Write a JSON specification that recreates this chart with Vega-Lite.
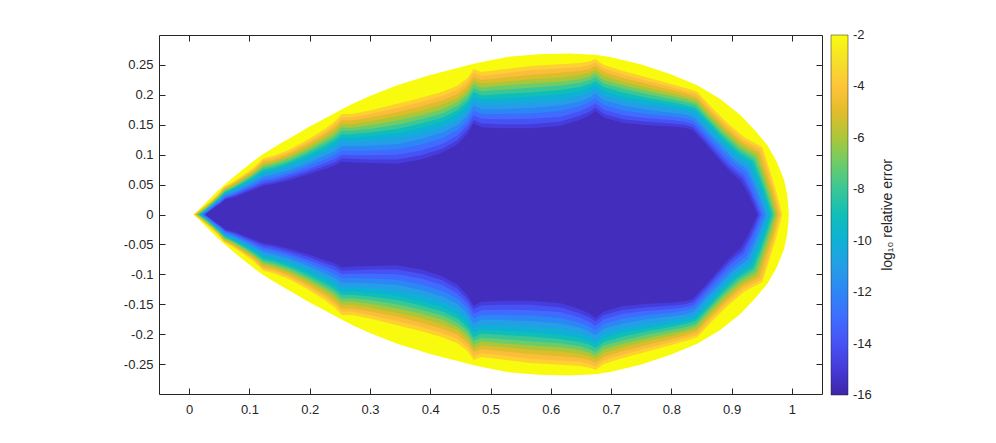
{
"$schema":"https://vega.github.io/schema/vega-lite/v6.json",
"width":663,"height":359,
"padding":{"left":119,"top":34,"right":0,"bottom":0},
"autosize":{"type":"pad"},
"background":"white",
"config":{"view":{"stroke":null},"font":"Liberation Sans",
"axis":{"domainColor":"#262626","domainWidth":1,"tickColor":"#262626","tickWidth":1,"labelColor":"#262626","labelFont":"Liberation Sans","labelFontSize":13,"grid":false,"title":null,"zindex":1}},
"data":{"values":[
{"e":-2,"x":0.007,"t":0,"b":0},{"e":-2,"x":0.015,"t":0.007,"b":-0.007},{"e":-2,"x":0.025,"t":0.017,"b":-0.017},{"e":-2,"x":0.035,"t":0.027,"b":-0.027},{"e":-2,"x":0.049,"t":0.041,"b":-0.041},{"e":-2,"x":0.066,"t":0.056,"b":-0.056},{"e":-2,"x":0.09,"t":0.076,"b":-0.076},{"e":-2,"x":0.121,"t":0.1,"b":-0.1},{"e":-2,"x":0.15,"t":0.118,"b":-0.118},{"e":-2,"x":0.176,"t":0.133,"b":-0.133},{"e":-2,"x":0.2,"t":0.147,"b":-0.147},{"e":-2,"x":0.226,"t":0.161,"b":-0.161},{"e":-2,"x":0.252,"t":0.175,"b":-0.175},{"e":-2,"x":0.273,"t":0.186,"b":-0.186},{"e":-2,"x":0.3,"t":0.198,"b":-0.198},{"e":-2,"x":0.345,"t":0.216,"b":-0.216},{"e":-2,"x":0.4,"t":0.233,"b":-0.233},{"e":-2,"x":0.45,"t":0.246,"b":-0.246},{"e":-2,"x":0.472,"t":0.252,"b":-0.252},{"e":-2,"x":0.5,"t":0.258,"b":-0.258},{"e":-2,"x":0.533,"t":0.264,"b":-0.264},{"e":-2,"x":0.58,"t":0.268,"b":-0.268},{"e":-2,"x":0.63,"t":0.269,"b":-0.269},{"e":-2,"x":0.674,"t":0.267,"b":-0.267},{"e":-2,"x":0.7,"t":0.263,"b":-0.263},{"e":-2,"x":0.749,"t":0.251,"b":-0.251},{"e":-2,"x":0.8,"t":0.234,"b":-0.234},{"e":-2,"x":0.843,"t":0.216,"b":-0.216},{"e":-2,"x":0.88,"t":0.194,"b":-0.194},{"e":-2,"x":0.915,"t":0.166,"b":-0.166},{"e":-2,"x":0.94,"t":0.139,"b":-0.139},{"e":-2,"x":0.96,"t":0.115,"b":-0.115},{"e":-2,"x":0.975,"t":0.088,"b":-0.088},{"e":-2,"x":0.987,"t":0.058,"b":-0.058},{"e":-2,"x":0.992,"t":0.035,"b":-0.035},{"e":-2,"x":0.994,"t":0.015,"b":-0.015},{"e":-2,"x":0.995,"t":0,"b":0},
{"e":-3.5,"x":0.008,"t":0,"b":0},{"e":-3.5,"x":0.02,"t":0.009,"b":-0.009},{"e":-3.5,"x":0.035,"t":0.022,"b":-0.022},{"e":-3.5,"x":0.048,"t":0.034,"b":-0.034},{"e":-3.5,"x":0.058,"t":0.046,"b":-0.046},{"e":-3.5,"x":0.072,"t":0.054,"b":-0.054},{"e":-3.5,"x":0.09,"t":0.066,"b":-0.066},{"e":-3.5,"x":0.108,"t":0.079,"b":-0.079},{"e":-3.5,"x":0.123,"t":0.094,"b":-0.094},{"e":-3.5,"x":0.14,"t":0.098,"b":-0.098},{"e":-3.5,"x":0.165,"t":0.108,"b":-0.108},{"e":-3.5,"x":0.195,"t":0.124,"b":-0.124},{"e":-3.5,"x":0.225,"t":0.143,"b":-0.143},{"e":-3.5,"x":0.242,"t":0.156,"b":-0.156},{"e":-3.5,"x":0.253,"t":0.168,"b":-0.168},{"e":-3.5,"x":0.27,"t":0.168,"b":-0.168},{"e":-3.5,"x":0.3,"t":0.174,"b":-0.174},{"e":-3.5,"x":0.345,"t":0.185,"b":-0.185},{"e":-3.5,"x":0.385,"t":0.195,"b":-0.195},{"e":-3.5,"x":0.42,"t":0.205,"b":-0.205},{"e":-3.5,"x":0.445,"t":0.215,"b":-0.215},{"e":-3.5,"x":0.462,"t":0.228,"b":-0.228},{"e":-3.5,"x":0.472,"t":0.243,"b":-0.243},{"e":-3.5,"x":0.485,"t":0.238,"b":-0.238},{"e":-3.5,"x":0.515,"t":0.242,"b":-0.242},{"e":-3.5,"x":0.566,"t":0.248,"b":-0.248},{"e":-3.5,"x":0.615,"t":0.251,"b":-0.251},{"e":-3.5,"x":0.648,"t":0.253,"b":-0.253},{"e":-3.5,"x":0.665,"t":0.256,"b":-0.256},{"e":-3.5,"x":0.674,"t":0.26,"b":-0.26},{"e":-3.5,"x":0.688,"t":0.25,"b":-0.25},{"e":-3.5,"x":0.72,"t":0.24,"b":-0.24},{"e":-3.5,"x":0.76,"t":0.229,"b":-0.229},{"e":-3.5,"x":0.8,"t":0.218,"b":-0.218},{"e":-3.5,"x":0.825,"t":0.211,"b":-0.211},{"e":-3.5,"x":0.843,"t":0.205,"b":-0.205},{"e":-3.5,"x":0.868,"t":0.178,"b":-0.178},{"e":-3.5,"x":0.894,"t":0.152,"b":-0.152},{"e":-3.5,"x":0.921,"t":0.129,"b":-0.129},{"e":-3.5,"x":0.951,"t":0.113,"b":-0.113},{"e":-3.5,"x":0.962,"t":0.078,"b":-0.078},{"e":-3.5,"x":0.974,"t":0.039,"b":-0.039},{"e":-3.5,"x":0.984,"t":0,"b":0},
{"e":-4.3,"x":0.009,"t":0,"b":0},{"e":-4.3,"x":0.021,"t":0.009,"b":-0.009},{"e":-4.3,"x":0.036,"t":0.021,"b":-0.021},{"e":-4.3,"x":0.048,"t":0.033,"b":-0.033},{"e":-4.3,"x":0.058,"t":0.045,"b":-0.045},{"e":-4.3,"x":0.072,"t":0.052,"b":-0.052},{"e":-4.3,"x":0.09,"t":0.064,"b":-0.064},{"e":-4.3,"x":0.108,"t":0.076,"b":-0.076},{"e":-4.3,"x":0.123,"t":0.091,"b":-0.091},{"e":-4.3,"x":0.14,"t":0.095,"b":-0.095},{"e":-4.3,"x":0.165,"t":0.104,"b":-0.104},{"e":-4.3,"x":0.195,"t":0.12,"b":-0.12},{"e":-4.3,"x":0.225,"t":0.138,"b":-0.138},{"e":-4.3,"x":0.242,"t":0.151,"b":-0.151},{"e":-4.3,"x":0.253,"t":0.162,"b":-0.162},{"e":-4.3,"x":0.27,"t":0.162,"b":-0.162},{"e":-4.3,"x":0.3,"t":0.168,"b":-0.168},{"e":-4.3,"x":0.345,"t":0.178,"b":-0.178},{"e":-4.3,"x":0.385,"t":0.188,"b":-0.188},{"e":-4.3,"x":0.42,"t":0.198,"b":-0.198},{"e":-4.3,"x":0.445,"t":0.208,"b":-0.208},{"e":-4.3,"x":0.462,"t":0.222,"b":-0.222},{"e":-4.3,"x":0.472,"t":0.237,"b":-0.237},{"e":-4.3,"x":0.485,"t":0.232,"b":-0.232},{"e":-4.3,"x":0.515,"t":0.235,"b":-0.235},{"e":-4.3,"x":0.566,"t":0.241,"b":-0.241},{"e":-4.3,"x":0.615,"t":0.244,"b":-0.244},{"e":-4.3,"x":0.648,"t":0.246,"b":-0.246},{"e":-4.3,"x":0.665,"t":0.25,"b":-0.25},{"e":-4.3,"x":0.674,"t":0.254,"b":-0.254},{"e":-4.3,"x":0.688,"t":0.244,"b":-0.244},{"e":-4.3,"x":0.72,"t":0.234,"b":-0.234},{"e":-4.3,"x":0.76,"t":0.223,"b":-0.223},{"e":-4.3,"x":0.8,"t":0.213,"b":-0.213},{"e":-4.3,"x":0.825,"t":0.206,"b":-0.206},{"e":-4.3,"x":0.843,"t":0.201,"b":-0.201},{"e":-4.3,"x":0.867,"t":0.174,"b":-0.174},{"e":-4.3,"x":0.893,"t":0.148,"b":-0.148},{"e":-4.3,"x":0.919,"t":0.125,"b":-0.125},{"e":-4.3,"x":0.949,"t":0.109,"b":-0.109},{"e":-4.3,"x":0.96,"t":0.075,"b":-0.075},{"e":-4.3,"x":0.971,"t":0.038,"b":-0.038},{"e":-4.3,"x":0.981,"t":0,"b":0},
{"e":-5.1,"x":0.011,"t":0,"b":0},{"e":-5.1,"x":0.022,"t":0.009,"b":-0.009},{"e":-5.1,"x":0.037,"t":0.021,"b":-0.021},{"e":-5.1,"x":0.049,"t":0.032,"b":-0.032},{"e":-5.1,"x":0.058,"t":0.043,"b":-0.043},{"e":-5.1,"x":0.072,"t":0.051,"b":-0.051},{"e":-5.1,"x":0.09,"t":0.062,"b":-0.062},{"e":-5.1,"x":0.108,"t":0.074,"b":-0.074},{"e":-5.1,"x":0.123,"t":0.088,"b":-0.088},{"e":-5.1,"x":0.14,"t":0.091,"b":-0.091},{"e":-5.1,"x":0.165,"t":0.101,"b":-0.101},{"e":-5.1,"x":0.195,"t":0.116,"b":-0.116},{"e":-5.1,"x":0.225,"t":0.134,"b":-0.134},{"e":-5.1,"x":0.242,"t":0.146,"b":-0.146},{"e":-5.1,"x":0.253,"t":0.157,"b":-0.157},{"e":-5.1,"x":0.27,"t":0.157,"b":-0.157},{"e":-5.1,"x":0.3,"t":0.162,"b":-0.162},{"e":-5.1,"x":0.345,"t":0.171,"b":-0.171},{"e":-5.1,"x":0.385,"t":0.181,"b":-0.181},{"e":-5.1,"x":0.42,"t":0.191,"b":-0.191},{"e":-5.1,"x":0.445,"t":0.201,"b":-0.201},{"e":-5.1,"x":0.462,"t":0.215,"b":-0.215},{"e":-5.1,"x":0.472,"t":0.23,"b":-0.23},{"e":-5.1,"x":0.485,"t":0.225,"b":-0.225},{"e":-5.1,"x":0.515,"t":0.228,"b":-0.228},{"e":-5.1,"x":0.566,"t":0.233,"b":-0.233},{"e":-5.1,"x":0.615,"t":0.237,"b":-0.237},{"e":-5.1,"x":0.648,"t":0.24,"b":-0.24},{"e":-5.1,"x":0.665,"t":0.243,"b":-0.243},{"e":-5.1,"x":0.674,"t":0.248,"b":-0.248},{"e":-5.1,"x":0.688,"t":0.238,"b":-0.238},{"e":-5.1,"x":0.72,"t":0.228,"b":-0.228},{"e":-5.1,"x":0.76,"t":0.218,"b":-0.218},{"e":-5.1,"x":0.8,"t":0.208,"b":-0.208},{"e":-5.1,"x":0.825,"t":0.202,"b":-0.202},{"e":-5.1,"x":0.842,"t":0.196,"b":-0.196},{"e":-5.1,"x":0.866,"t":0.17,"b":-0.17},{"e":-5.1,"x":0.891,"t":0.144,"b":-0.144},{"e":-5.1,"x":0.917,"t":0.121,"b":-0.121},{"e":-5.1,"x":0.946,"t":0.105,"b":-0.105},{"e":-5.1,"x":0.957,"t":0.072,"b":-0.072},{"e":-5.1,"x":0.969,"t":0.036,"b":-0.036},{"e":-5.1,"x":0.978,"t":0,"b":0},
{"e":-6,"x":0.012,"t":0,"b":0},{"e":-6,"x":0.023,"t":0.009,"b":-0.009},{"e":-6,"x":0.037,"t":0.02,"b":-0.02},{"e":-6,"x":0.049,"t":0.031,"b":-0.031},{"e":-6,"x":0.058,"t":0.042,"b":-0.042},{"e":-6,"x":0.073,"t":0.049,"b":-0.049},{"e":-6,"x":0.09,"t":0.06,"b":-0.06},{"e":-6,"x":0.108,"t":0.071,"b":-0.071},{"e":-6,"x":0.123,"t":0.084,"b":-0.084},{"e":-6,"x":0.14,"t":0.088,"b":-0.088},{"e":-6,"x":0.165,"t":0.097,"b":-0.097},{"e":-6,"x":0.195,"t":0.112,"b":-0.112},{"e":-6,"x":0.225,"t":0.129,"b":-0.129},{"e":-6,"x":0.242,"t":0.141,"b":-0.141},{"e":-6,"x":0.253,"t":0.151,"b":-0.151},{"e":-6,"x":0.27,"t":0.151,"b":-0.151},{"e":-6,"x":0.3,"t":0.156,"b":-0.156},{"e":-6,"x":0.345,"t":0.164,"b":-0.164},{"e":-6,"x":0.385,"t":0.173,"b":-0.173},{"e":-6,"x":0.42,"t":0.184,"b":-0.184},{"e":-6,"x":0.445,"t":0.194,"b":-0.194},{"e":-6,"x":0.462,"t":0.209,"b":-0.209},{"e":-6,"x":0.472,"t":0.224,"b":-0.224},{"e":-6,"x":0.485,"t":0.219,"b":-0.219},{"e":-6,"x":0.515,"t":0.221,"b":-0.221},{"e":-6,"x":0.566,"t":0.226,"b":-0.226},{"e":-6,"x":0.615,"t":0.229,"b":-0.229},{"e":-6,"x":0.648,"t":0.233,"b":-0.233},{"e":-6,"x":0.665,"t":0.237,"b":-0.237},{"e":-6,"x":0.674,"t":0.242,"b":-0.242},{"e":-6,"x":0.688,"t":0.232,"b":-0.232},{"e":-6,"x":0.72,"t":0.222,"b":-0.222},{"e":-6,"x":0.76,"t":0.212,"b":-0.212},{"e":-6,"x":0.8,"t":0.203,"b":-0.203},{"e":-6,"x":0.824,"t":0.197,"b":-0.197},{"e":-6,"x":0.842,"t":0.192,"b":-0.192},{"e":-6,"x":0.865,"t":0.166,"b":-0.166},{"e":-6,"x":0.89,"t":0.141,"b":-0.141},{"e":-6,"x":0.915,"t":0.118,"b":-0.118},{"e":-6,"x":0.943,"t":0.101,"b":-0.101},{"e":-6,"x":0.954,"t":0.069,"b":-0.069},{"e":-6,"x":0.966,"t":0.035,"b":-0.035},{"e":-6,"x":0.975,"t":0,"b":0},
{"e":-7,"x":0.013,"t":0,"b":0},{"e":-7,"x":0.024,"t":0.008,"b":-0.008},{"e":-7,"x":0.038,"t":0.02,"b":-0.02},{"e":-7,"x":0.049,"t":0.03,"b":-0.03},{"e":-7,"x":0.059,"t":0.04,"b":-0.04},{"e":-7,"x":0.073,"t":0.047,"b":-0.047},{"e":-7,"x":0.09,"t":0.057,"b":-0.057},{"e":-7,"x":0.107,"t":0.068,"b":-0.068},{"e":-7,"x":0.123,"t":0.081,"b":-0.081},{"e":-7,"x":0.14,"t":0.085,"b":-0.085},{"e":-7,"x":0.165,"t":0.094,"b":-0.094},{"e":-7,"x":0.195,"t":0.108,"b":-0.108},{"e":-7,"x":0.225,"t":0.124,"b":-0.124},{"e":-7,"x":0.242,"t":0.135,"b":-0.135},{"e":-7,"x":0.253,"t":0.146,"b":-0.146},{"e":-7,"x":0.27,"t":0.145,"b":-0.145},{"e":-7,"x":0.3,"t":0.149,"b":-0.149},{"e":-7,"x":0.345,"t":0.157,"b":-0.157},{"e":-7,"x":0.385,"t":0.166,"b":-0.166},{"e":-7,"x":0.42,"t":0.176,"b":-0.176},{"e":-7,"x":0.445,"t":0.188,"b":-0.188},{"e":-7,"x":0.462,"t":0.202,"b":-0.202},{"e":-7,"x":0.472,"t":0.218,"b":-0.218},{"e":-7,"x":0.485,"t":0.212,"b":-0.212},{"e":-7,"x":0.515,"t":0.215,"b":-0.215},{"e":-7,"x":0.566,"t":0.219,"b":-0.219},{"e":-7,"x":0.615,"t":0.222,"b":-0.222},{"e":-7,"x":0.648,"t":0.226,"b":-0.226},{"e":-7,"x":0.665,"t":0.231,"b":-0.231},{"e":-7,"x":0.674,"t":0.236,"b":-0.236},{"e":-7,"x":0.688,"t":0.225,"b":-0.225},{"e":-7,"x":0.72,"t":0.216,"b":-0.216},{"e":-7,"x":0.76,"t":0.207,"b":-0.207},{"e":-7,"x":0.8,"t":0.198,"b":-0.198},{"e":-7,"x":0.824,"t":0.193,"b":-0.193},{"e":-7,"x":0.841,"t":0.187,"b":-0.187},{"e":-7,"x":0.864,"t":0.162,"b":-0.162},{"e":-7,"x":0.888,"t":0.137,"b":-0.137},{"e":-7,"x":0.913,"t":0.114,"b":-0.114},{"e":-7,"x":0.941,"t":0.097,"b":-0.097},{"e":-7,"x":0.952,"t":0.067,"b":-0.067},{"e":-7,"x":0.963,"t":0.033,"b":-0.033},{"e":-7,"x":0.973,"t":0,"b":0},
{"e":-8,"x":0.015,"t":0,"b":0},{"e":-8,"x":0.026,"t":0.008,"b":-0.008},{"e":-8,"x":0.039,"t":0.019,"b":-0.019},{"e":-8,"x":0.05,"t":0.029,"b":-0.029},{"e":-8,"x":0.059,"t":0.039,"b":-0.039},{"e":-8,"x":0.073,"t":0.045,"b":-0.045},{"e":-8,"x":0.09,"t":0.055,"b":-0.055},{"e":-8,"x":0.107,"t":0.066,"b":-0.066},{"e":-8,"x":0.123,"t":0.078,"b":-0.078},{"e":-8,"x":0.14,"t":0.082,"b":-0.082},{"e":-8,"x":0.165,"t":0.09,"b":-0.09},{"e":-8,"x":0.195,"t":0.104,"b":-0.104},{"e":-8,"x":0.225,"t":0.12,"b":-0.12},{"e":-8,"x":0.242,"t":0.13,"b":-0.13},{"e":-8,"x":0.253,"t":0.14,"b":-0.14},{"e":-8,"x":0.27,"t":0.14,"b":-0.14},{"e":-8,"x":0.3,"t":0.143,"b":-0.143},{"e":-8,"x":0.345,"t":0.15,"b":-0.15},{"e":-8,"x":0.385,"t":0.159,"b":-0.159},{"e":-8,"x":0.42,"t":0.169,"b":-0.169},{"e":-8,"x":0.445,"t":0.181,"b":-0.181},{"e":-8,"x":0.462,"t":0.195,"b":-0.195},{"e":-8,"x":0.472,"t":0.211,"b":-0.211},{"e":-8,"x":0.485,"t":0.206,"b":-0.206},{"e":-8,"x":0.515,"t":0.208,"b":-0.208},{"e":-8,"x":0.566,"t":0.212,"b":-0.212},{"e":-8,"x":0.615,"t":0.215,"b":-0.215},{"e":-8,"x":0.648,"t":0.22,"b":-0.22},{"e":-8,"x":0.665,"t":0.225,"b":-0.225},{"e":-8,"x":0.674,"t":0.23,"b":-0.23},{"e":-8,"x":0.688,"t":0.219,"b":-0.219},{"e":-8,"x":0.72,"t":0.21,"b":-0.21},{"e":-8,"x":0.76,"t":0.201,"b":-0.201},{"e":-8,"x":0.8,"t":0.193,"b":-0.193},{"e":-8,"x":0.824,"t":0.188,"b":-0.188},{"e":-8,"x":0.841,"t":0.183,"b":-0.183},{"e":-8,"x":0.863,"t":0.158,"b":-0.158},{"e":-8,"x":0.887,"t":0.133,"b":-0.133},{"e":-8,"x":0.912,"t":0.11,"b":-0.11},{"e":-8,"x":0.938,"t":0.093,"b":-0.093},{"e":-8,"x":0.949,"t":0.064,"b":-0.064},{"e":-8,"x":0.96,"t":0.032,"b":-0.032},{"e":-8,"x":0.97,"t":0,"b":0},
{"e":-9,"x":0.016,"t":0,"b":0},{"e":-9,"x":0.027,"t":0.008,"b":-0.008},{"e":-9,"x":0.04,"t":0.019,"b":-0.019},{"e":-9,"x":0.05,"t":0.028,"b":-0.028},{"e":-9,"x":0.059,"t":0.037,"b":-0.037},{"e":-9,"x":0.073,"t":0.044,"b":-0.044},{"e":-9,"x":0.09,"t":0.053,"b":-0.053},{"e":-9,"x":0.107,"t":0.063,"b":-0.063},{"e":-9,"x":0.123,"t":0.075,"b":-0.075},{"e":-9,"x":0.14,"t":0.078,"b":-0.078},{"e":-9,"x":0.165,"t":0.087,"b":-0.087},{"e":-9,"x":0.195,"t":0.1,"b":-0.1},{"e":-9,"x":0.225,"t":0.115,"b":-0.115},{"e":-9,"x":0.242,"t":0.125,"b":-0.125},{"e":-9,"x":0.253,"t":0.134,"b":-0.134},{"e":-9,"x":0.27,"t":0.134,"b":-0.134},{"e":-9,"x":0.3,"t":0.137,"b":-0.137},{"e":-9,"x":0.345,"t":0.143,"b":-0.143},{"e":-9,"x":0.385,"t":0.152,"b":-0.152},{"e":-9,"x":0.42,"t":0.162,"b":-0.162},{"e":-9,"x":0.445,"t":0.174,"b":-0.174},{"e":-9,"x":0.462,"t":0.189,"b":-0.189},{"e":-9,"x":0.472,"t":0.205,"b":-0.205},{"e":-9,"x":0.485,"t":0.199,"b":-0.199},{"e":-9,"x":0.515,"t":0.201,"b":-0.201},{"e":-9,"x":0.566,"t":0.204,"b":-0.204},{"e":-9,"x":0.615,"t":0.208,"b":-0.208},{"e":-9,"x":0.648,"t":0.213,"b":-0.213},{"e":-9,"x":0.665,"t":0.218,"b":-0.218},{"e":-9,"x":0.674,"t":0.223,"b":-0.223},{"e":-9,"x":0.688,"t":0.213,"b":-0.213},{"e":-9,"x":0.72,"t":0.204,"b":-0.204},{"e":-9,"x":0.76,"t":0.195,"b":-0.195},{"e":-9,"x":0.8,"t":0.188,"b":-0.188},{"e":-9,"x":0.824,"t":0.183,"b":-0.183},{"e":-9,"x":0.84,"t":0.178,"b":-0.178},{"e":-9,"x":0.863,"t":0.154,"b":-0.154},{"e":-9,"x":0.886,"t":0.129,"b":-0.129},{"e":-9,"x":0.91,"t":0.106,"b":-0.106},{"e":-9,"x":0.936,"t":0.089,"b":-0.089},{"e":-9,"x":0.947,"t":0.061,"b":-0.061},{"e":-9,"x":0.958,"t":0.03,"b":-0.03},{"e":-9,"x":0.967,"t":0,"b":0},
{"e":-10,"x":0.017,"t":0,"b":0},{"e":-10,"x":0.028,"t":0.008,"b":-0.008},{"e":-10,"x":0.04,"t":0.018,"b":-0.018},{"e":-10,"x":0.05,"t":0.027,"b":-0.027},{"e":-10,"x":0.059,"t":0.036,"b":-0.036},{"e":-10,"x":0.073,"t":0.042,"b":-0.042},{"e":-10,"x":0.09,"t":0.051,"b":-0.051},{"e":-10,"x":0.107,"t":0.06,"b":-0.06},{"e":-10,"x":0.123,"t":0.071,"b":-0.071},{"e":-10,"x":0.14,"t":0.075,"b":-0.075},{"e":-10,"x":0.165,"t":0.083,"b":-0.083},{"e":-10,"x":0.195,"t":0.096,"b":-0.096},{"e":-10,"x":0.225,"t":0.11,"b":-0.11},{"e":-10,"x":0.242,"t":0.12,"b":-0.12},{"e":-10,"x":0.253,"t":0.129,"b":-0.129},{"e":-10,"x":0.27,"t":0.128,"b":-0.128},{"e":-10,"x":0.3,"t":0.131,"b":-0.131},{"e":-10,"x":0.345,"t":0.136,"b":-0.136},{"e":-10,"x":0.385,"t":0.145,"b":-0.145},{"e":-10,"x":0.42,"t":0.155,"b":-0.155},{"e":-10,"x":0.445,"t":0.167,"b":-0.167},{"e":-10,"x":0.462,"t":0.182,"b":-0.182},{"e":-10,"x":0.472,"t":0.198,"b":-0.198},{"e":-10,"x":0.485,"t":0.193,"b":-0.193},{"e":-10,"x":0.515,"t":0.194,"b":-0.194},{"e":-10,"x":0.566,"t":0.197,"b":-0.197},{"e":-10,"x":0.615,"t":0.201,"b":-0.201},{"e":-10,"x":0.648,"t":0.206,"b":-0.206},{"e":-10,"x":0.665,"t":0.212,"b":-0.212},{"e":-10,"x":0.674,"t":0.217,"b":-0.217},{"e":-10,"x":0.688,"t":0.207,"b":-0.207},{"e":-10,"x":0.72,"t":0.197,"b":-0.197},{"e":-10,"x":0.76,"t":0.19,"b":-0.19},{"e":-10,"x":0.8,"t":0.183,"b":-0.183},{"e":-10,"x":0.824,"t":0.179,"b":-0.179},{"e":-10,"x":0.84,"t":0.174,"b":-0.174},{"e":-10,"x":0.862,"t":0.15,"b":-0.15},{"e":-10,"x":0.884,"t":0.125,"b":-0.125},{"e":-10,"x":0.908,"t":0.103,"b":-0.103},{"e":-10,"x":0.933,"t":0.085,"b":-0.085},{"e":-10,"x":0.944,"t":0.058,"b":-0.058},{"e":-10,"x":0.955,"t":0.029,"b":-0.029},{"e":-10,"x":0.964,"t":0,"b":0},
{"e":-11,"x":0.019,"t":0,"b":0},{"e":-11,"x":0.029,"t":0.008,"b":-0.008},{"e":-11,"x":0.041,"t":0.017,"b":-0.017},{"e":-11,"x":0.051,"t":0.025,"b":-0.025},{"e":-11,"x":0.059,"t":0.034,"b":-0.034},{"e":-11,"x":0.074,"t":0.04,"b":-0.04},{"e":-11,"x":0.09,"t":0.048,"b":-0.048},{"e":-11,"x":0.107,"t":0.057,"b":-0.057},{"e":-11,"x":0.123,"t":0.067,"b":-0.067},{"e":-11,"x":0.14,"t":0.071,"b":-0.071},{"e":-11,"x":0.165,"t":0.078,"b":-0.078},{"e":-11,"x":0.195,"t":0.09,"b":-0.09},{"e":-11,"x":0.225,"t":0.104,"b":-0.104},{"e":-11,"x":0.242,"t":0.113,"b":-0.113},{"e":-11,"x":0.253,"t":0.122,"b":-0.122},{"e":-11,"x":0.27,"t":0.121,"b":-0.121},{"e":-11,"x":0.3,"t":0.123,"b":-0.123},{"e":-11,"x":0.345,"t":0.127,"b":-0.127},{"e":-11,"x":0.385,"t":0.135,"b":-0.135},{"e":-11,"x":0.42,"t":0.146,"b":-0.146},{"e":-11,"x":0.445,"t":0.158,"b":-0.158},{"e":-11,"x":0.462,"t":0.174,"b":-0.174},{"e":-11,"x":0.472,"t":0.19,"b":-0.19},{"e":-11,"x":0.485,"t":0.185,"b":-0.185},{"e":-11,"x":0.515,"t":0.185,"b":-0.185},{"e":-11,"x":0.566,"t":0.188,"b":-0.188},{"e":-11,"x":0.615,"t":0.191,"b":-0.191},{"e":-11,"x":0.648,"t":0.198,"b":-0.198},{"e":-11,"x":0.665,"t":0.204,"b":-0.204},{"e":-11,"x":0.674,"t":0.21,"b":-0.21},{"e":-11,"x":0.688,"t":0.199,"b":-0.199},{"e":-11,"x":0.72,"t":0.19,"b":-0.19},{"e":-11,"x":0.76,"t":0.183,"b":-0.183},{"e":-11,"x":0.8,"t":0.177,"b":-0.177},{"e":-11,"x":0.823,"t":0.173,"b":-0.173},{"e":-11,"x":0.839,"t":0.168,"b":-0.168},{"e":-11,"x":0.86,"t":0.144,"b":-0.144},{"e":-11,"x":0.882,"t":0.121,"b":-0.121},{"e":-11,"x":0.905,"t":0.098,"b":-0.098},{"e":-11,"x":0.93,"t":0.08,"b":-0.08},{"e":-11,"x":0.941,"t":0.054,"b":-0.054},{"e":-11,"x":0.951,"t":0.027,"b":-0.027},{"e":-11,"x":0.96,"t":0,"b":0},
{"e":-12,"x":0.021,"t":0,"b":0},{"e":-12,"x":0.031,"t":0.008,"b":-0.008},{"e":-12,"x":0.042,"t":0.017,"b":-0.017},{"e":-12,"x":0.051,"t":0.024,"b":-0.024},{"e":-12,"x":0.059,"t":0.032,"b":-0.032},{"e":-12,"x":0.074,"t":0.037,"b":-0.037},{"e":-12,"x":0.09,"t":0.045,"b":-0.045},{"e":-12,"x":0.107,"t":0.054,"b":-0.054},{"e":-12,"x":0.123,"t":0.063,"b":-0.063},{"e":-12,"x":0.14,"t":0.067,"b":-0.067},{"e":-12,"x":0.165,"t":0.074,"b":-0.074},{"e":-12,"x":0.195,"t":0.085,"b":-0.085},{"e":-12,"x":0.225,"t":0.098,"b":-0.098},{"e":-12,"x":0.242,"t":0.106,"b":-0.106},{"e":-12,"x":0.253,"t":0.114,"b":-0.114},{"e":-12,"x":0.27,"t":0.114,"b":-0.114},{"e":-12,"x":0.3,"t":0.115,"b":-0.115},{"e":-12,"x":0.345,"t":0.118,"b":-0.118},{"e":-12,"x":0.385,"t":0.126,"b":-0.126},{"e":-12,"x":0.42,"t":0.137,"b":-0.137},{"e":-12,"x":0.445,"t":0.149,"b":-0.149},{"e":-12,"x":0.462,"t":0.166,"b":-0.166},{"e":-12,"x":0.472,"t":0.182,"b":-0.182},{"e":-12,"x":0.485,"t":0.176,"b":-0.176},{"e":-12,"x":0.515,"t":0.176,"b":-0.176},{"e":-12,"x":0.566,"t":0.178,"b":-0.178},{"e":-12,"x":0.615,"t":0.182,"b":-0.182},{"e":-12,"x":0.648,"t":0.189,"b":-0.189},{"e":-12,"x":0.665,"t":0.196,"b":-0.196},{"e":-12,"x":0.674,"t":0.202,"b":-0.202},{"e":-12,"x":0.688,"t":0.191,"b":-0.191},{"e":-12,"x":0.72,"t":0.182,"b":-0.182},{"e":-12,"x":0.76,"t":0.175,"b":-0.175},{"e":-12,"x":0.8,"t":0.17,"b":-0.17},{"e":-12,"x":0.823,"t":0.167,"b":-0.167},{"e":-12,"x":0.838,"t":0.162,"b":-0.162},{"e":-12,"x":0.859,"t":0.139,"b":-0.139},{"e":-12,"x":0.881,"t":0.116,"b":-0.116},{"e":-12,"x":0.903,"t":0.093,"b":-0.093},{"e":-12,"x":0.927,"t":0.075,"b":-0.075},{"e":-12,"x":0.938,"t":0.051,"b":-0.051},{"e":-12,"x":0.948,"t":0.025,"b":-0.025},{"e":-12,"x":0.957,"t":0,"b":0},
{"e":-13,"x":0.022,"t":0,"b":0},{"e":-13,"x":0.032,"t":0.007,"b":-0.007},{"e":-13,"x":0.043,"t":0.016,"b":-0.016},{"e":-13,"x":0.052,"t":0.023,"b":-0.023},{"e":-13,"x":0.06,"t":0.03,"b":-0.03},{"e":-13,"x":0.074,"t":0.035,"b":-0.035},{"e":-13,"x":0.09,"t":0.042,"b":-0.042},{"e":-13,"x":0.106,"t":0.05,"b":-0.05},{"e":-13,"x":0.123,"t":0.059,"b":-0.059},{"e":-13,"x":0.14,"t":0.062,"b":-0.062},{"e":-13,"x":0.165,"t":0.069,"b":-0.069},{"e":-13,"x":0.195,"t":0.08,"b":-0.08},{"e":-13,"x":0.225,"t":0.092,"b":-0.092},{"e":-13,"x":0.242,"t":0.1,"b":-0.1},{"e":-13,"x":0.253,"t":0.107,"b":-0.107},{"e":-13,"x":0.27,"t":0.106,"b":-0.106},{"e":-13,"x":0.3,"t":0.107,"b":-0.107},{"e":-13,"x":0.345,"t":0.109,"b":-0.109},{"e":-13,"x":0.385,"t":0.117,"b":-0.117},{"e":-13,"x":0.42,"t":0.128,"b":-0.128},{"e":-13,"x":0.445,"t":0.141,"b":-0.141},{"e":-13,"x":0.462,"t":0.157,"b":-0.157},{"e":-13,"x":0.472,"t":0.174,"b":-0.174},{"e":-13,"x":0.485,"t":0.168,"b":-0.168},{"e":-13,"x":0.515,"t":0.168,"b":-0.168},{"e":-13,"x":0.566,"t":0.169,"b":-0.169},{"e":-13,"x":0.615,"t":0.173,"b":-0.173},{"e":-13,"x":0.648,"t":0.181,"b":-0.181},{"e":-13,"x":0.665,"t":0.188,"b":-0.188},{"e":-13,"x":0.674,"t":0.194,"b":-0.194},{"e":-13,"x":0.688,"t":0.183,"b":-0.183},{"e":-13,"x":0.72,"t":0.174,"b":-0.174},{"e":-13,"x":0.76,"t":0.168,"b":-0.168},{"e":-13,"x":0.8,"t":0.164,"b":-0.164},{"e":-13,"x":0.823,"t":0.161,"b":-0.161},{"e":-13,"x":0.838,"t":0.156,"b":-0.156},{"e":-13,"x":0.858,"t":0.134,"b":-0.134},{"e":-13,"x":0.879,"t":0.111,"b":-0.111},{"e":-13,"x":0.901,"t":0.088,"b":-0.088},{"e":-13,"x":0.924,"t":0.07,"b":-0.07},{"e":-13,"x":0.935,"t":0.047,"b":-0.047},{"e":-13,"x":0.944,"t":0.023,"b":-0.023},{"e":-13,"x":0.953,"t":0,"b":0},
{"e":-14,"x":0.024,"t":0,"b":0},{"e":-14,"x":0.034,"t":0.007,"b":-0.007},{"e":-14,"x":0.044,"t":0.015,"b":-0.015},{"e":-14,"x":0.052,"t":0.021,"b":-0.021},{"e":-14,"x":0.06,"t":0.028,"b":-0.028},{"e":-14,"x":0.075,"t":0.033,"b":-0.033},{"e":-14,"x":0.09,"t":0.04,"b":-0.04},{"e":-14,"x":0.106,"t":0.047,"b":-0.047},{"e":-14,"x":0.123,"t":0.055,"b":-0.055},{"e":-14,"x":0.14,"t":0.058,"b":-0.058},{"e":-14,"x":0.165,"t":0.065,"b":-0.065},{"e":-14,"x":0.195,"t":0.075,"b":-0.075},{"e":-14,"x":0.225,"t":0.086,"b":-0.086},{"e":-14,"x":0.242,"t":0.093,"b":-0.093},{"e":-14,"x":0.253,"t":0.1,"b":-0.1},{"e":-14,"x":0.27,"t":0.099,"b":-0.099},{"e":-14,"x":0.3,"t":0.099,"b":-0.099},{"e":-14,"x":0.345,"t":0.1,"b":-0.1},{"e":-14,"x":0.385,"t":0.107,"b":-0.107},{"e":-14,"x":0.42,"t":0.118,"b":-0.118},{"e":-14,"x":0.445,"t":0.132,"b":-0.132},{"e":-14,"x":0.462,"t":0.149,"b":-0.149},{"e":-14,"x":0.472,"t":0.166,"b":-0.166},{"e":-14,"x":0.485,"t":0.16,"b":-0.16},{"e":-14,"x":0.515,"t":0.159,"b":-0.159},{"e":-14,"x":0.566,"t":0.16,"b":-0.16},{"e":-14,"x":0.615,"t":0.163,"b":-0.163},{"e":-14,"x":0.648,"t":0.172,"b":-0.172},{"e":-14,"x":0.665,"t":0.18,"b":-0.18},{"e":-14,"x":0.674,"t":0.186,"b":-0.186},{"e":-14,"x":0.688,"t":0.175,"b":-0.175},{"e":-14,"x":0.72,"t":0.166,"b":-0.166},{"e":-14,"x":0.76,"t":0.161,"b":-0.161},{"e":-14,"x":0.8,"t":0.158,"b":-0.158},{"e":-14,"x":0.822,"t":0.155,"b":-0.155},{"e":-14,"x":0.837,"t":0.151,"b":-0.151},{"e":-14,"x":0.857,"t":0.129,"b":-0.129},{"e":-14,"x":0.877,"t":0.106,"b":-0.106},{"e":-14,"x":0.898,"t":0.083,"b":-0.083},{"e":-14,"x":0.92,"t":0.065,"b":-0.065},{"e":-14,"x":0.931,"t":0.043,"b":-0.043},{"e":-14,"x":0.941,"t":0.021,"b":-0.021},{"e":-14,"x":0.949,"t":0,"b":0},
{"e":-14.9,"x":0.026,"t":0,"b":0},{"e":-14.9,"x":0.035,"t":0.007,"b":-0.007},{"e":-14.9,"x":0.045,"t":0.015,"b":-0.015},{"e":-14.9,"x":0.053,"t":0.02,"b":-0.02},{"e":-14.9,"x":0.06,"t":0.027,"b":-0.027},{"e":-14.9,"x":0.075,"t":0.031,"b":-0.031},{"e":-14.9,"x":0.09,"t":0.037,"b":-0.037},{"e":-14.9,"x":0.106,"t":0.044,"b":-0.044},{"e":-14.9,"x":0.123,"t":0.051,"b":-0.051},{"e":-14.9,"x":0.14,"t":0.054,"b":-0.054},{"e":-14.9,"x":0.165,"t":0.061,"b":-0.061},{"e":-14.9,"x":0.195,"t":0.07,"b":-0.07},{"e":-14.9,"x":0.225,"t":0.081,"b":-0.081},{"e":-14.9,"x":0.242,"t":0.087,"b":-0.087},{"e":-14.9,"x":0.253,"t":0.094,"b":-0.094},{"e":-14.9,"x":0.27,"t":0.093,"b":-0.093},{"e":-14.9,"x":0.3,"t":0.092,"b":-0.092},{"e":-14.9,"x":0.345,"t":0.092,"b":-0.092},{"e":-14.9,"x":0.385,"t":0.099,"b":-0.099},{"e":-14.9,"x":0.42,"t":0.11,"b":-0.11},{"e":-14.9,"x":0.445,"t":0.124,"b":-0.124},{"e":-14.9,"x":0.462,"t":0.142,"b":-0.142},{"e":-14.9,"x":0.472,"t":0.158,"b":-0.158},{"e":-14.9,"x":0.485,"t":0.152,"b":-0.152},{"e":-14.9,"x":0.515,"t":0.151,"b":-0.151},{"e":-14.9,"x":0.566,"t":0.151,"b":-0.151},{"e":-14.9,"x":0.615,"t":0.155,"b":-0.155},{"e":-14.9,"x":0.648,"t":0.165,"b":-0.165},{"e":-14.9,"x":0.665,"t":0.172,"b":-0.172},{"e":-14.9,"x":0.674,"t":0.179,"b":-0.179},{"e":-14.9,"x":0.688,"t":0.168,"b":-0.168},{"e":-14.9,"x":0.72,"t":0.159,"b":-0.159},{"e":-14.9,"x":0.76,"t":0.155,"b":-0.155},{"e":-14.9,"x":0.8,"t":0.152,"b":-0.152},{"e":-14.9,"x":0.822,"t":0.15,"b":-0.15},{"e":-14.9,"x":0.836,"t":0.146,"b":-0.146},{"e":-14.9,"x":0.856,"t":0.124,"b":-0.124},{"e":-14.9,"x":0.875,"t":0.102,"b":-0.102},{"e":-14.9,"x":0.896,"t":0.079,"b":-0.079},{"e":-14.9,"x":0.918,"t":0.06,"b":-0.06},{"e":-14.9,"x":0.929,"t":0.04,"b":-0.04},{"e":-14.9,"x":0.938,"t":0.02,"b":-0.02},{"e":-14.9,"x":0.946,"t":0,"b":0},
{"e":-15.6,"x":0.027,"t":0,"b":0},{"e":-15.6,"x":0.036,"t":0.007,"b":-0.007},{"e":-15.6,"x":0.046,"t":0.014,"b":-0.014},{"e":-15.6,"x":0.053,"t":0.019,"b":-0.019},{"e":-15.6,"x":0.06,"t":0.025,"b":-0.025},{"e":-15.6,"x":0.075,"t":0.029,"b":-0.029},{"e":-15.6,"x":0.09,"t":0.035,"b":-0.035},{"e":-15.6,"x":0.106,"t":0.041,"b":-0.041},{"e":-15.6,"x":0.123,"t":0.048,"b":-0.048},{"e":-15.6,"x":0.14,"t":0.051,"b":-0.051},{"e":-15.6,"x":0.165,"t":0.057,"b":-0.057},{"e":-15.6,"x":0.195,"t":0.066,"b":-0.066},{"e":-15.6,"x":0.225,"t":0.076,"b":-0.076},{"e":-15.6,"x":0.242,"t":0.082,"b":-0.082},{"e":-15.6,"x":0.253,"t":0.088,"b":-0.088},{"e":-15.6,"x":0.27,"t":0.087,"b":-0.087},{"e":-15.6,"x":0.3,"t":0.086,"b":-0.086},{"e":-15.6,"x":0.345,"t":0.085,"b":-0.085},{"e":-15.6,"x":0.385,"t":0.092,"b":-0.092},{"e":-15.6,"x":0.42,"t":0.103,"b":-0.103},{"e":-15.6,"x":0.445,"t":0.117,"b":-0.117},{"e":-15.6,"x":0.462,"t":0.135,"b":-0.135},{"e":-15.6,"x":0.472,"t":0.152,"b":-0.152},{"e":-15.6,"x":0.485,"t":0.146,"b":-0.146},{"e":-15.6,"x":0.515,"t":0.144,"b":-0.144},{"e":-15.6,"x":0.566,"t":0.144,"b":-0.144},{"e":-15.6,"x":0.615,"t":0.148,"b":-0.148},{"e":-15.6,"x":0.648,"t":0.158,"b":-0.158},{"e":-15.6,"x":0.665,"t":0.166,"b":-0.166},{"e":-15.6,"x":0.674,"t":0.173,"b":-0.173},{"e":-15.6,"x":0.688,"t":0.162,"b":-0.162},{"e":-15.6,"x":0.72,"t":0.153,"b":-0.153},{"e":-15.6,"x":0.76,"t":0.149,"b":-0.149},{"e":-15.6,"x":0.8,"t":0.147,"b":-0.147},{"e":-15.6,"x":0.822,"t":0.145,"b":-0.145},{"e":-15.6,"x":0.836,"t":0.141,"b":-0.141},{"e":-15.6,"x":0.855,"t":0.12,"b":-0.12},{"e":-15.6,"x":0.874,"t":0.098,"b":-0.098},{"e":-15.6,"x":0.894,"t":0.075,"b":-0.075},{"e":-15.6,"x":0.915,"t":0.056,"b":-0.056},{"e":-15.6,"x":0.926,"t":0.037,"b":-0.037},{"e":-15.6,"x":0.935,"t":0.018,"b":-0.018},{"e":-15.6,"x":0.943,"t":0,"b":0}
]},
"layer":[
{"mark":{"type":"area","interpolate":"linear"},
 "encoding":{
  "x":{"field":"x","type":"quantitative","scale":{"domain":[-0.05,1.05],"nice":false,"zero":false},
   "axis":{"orient":"bottom","values":[0,0.1,0.2,0.3,0.4,0.5,0.6,0.7,0.8,0.9,1],"format":"~g","tickSize":-6,"labelPadding":15}},
  "y":{"field":"t","type":"quantitative","scale":{"domain":[-0.3,0.3],"nice":false,"zero":false},
   "axis":{"orient":"left","values":[-0.25,-0.2,-0.15,-0.1,-0.05,0,0.05,0.1,0.15,0.2,0.25],"format":"~g","labelExpr":"replace(datum.label,'−','-')","tickSize":-6,"labelPadding":12,"minExtent":40,"maxExtent":40}},
  "y2":{"field":"b"},
  "detail":{"field":"e","type":"quantitative"},
  "color":{"field":"e","type":"quantitative",
   "scale":{"domain":[-16,-15.3333,-14.4444,-13.7778,-12.8889,-12.2222,-11.3333,-10.6667,-9.7778,-9.1111,-8.2222,-7.3333,-6.6667,-6,-5.3333,-4.8889,-4.4444,-4.2222,-3.7778,-3.3333,-2.8889,-2.4444,-2],
     "range":["#3e26a8","#4432cb","#4747eb","#4758f8","#3e6fff","#2f81fa","#2796eb","#20a5e3","#08b5d0","#0bbdbd","#31c69f","#57cc7a","#81cc59","#abc739","#d1bf27","#e6bb2d","#f8ba3d","#febe3c","#fec934","#fad62d","#f5e327","#f6ef20","#f9fb0e"],"interpolate":"rgb"},
   "legend":{"orient":"right","offset":8,"direction":"vertical","gradientLength":360,"gradientThickness":17,
     "values":[-16,-14,-12,-10,-8,-6,-4,-2],"format":"~g","labelExpr":"replace(datum.label,'−','-')",
     "labelFontSize":13,"labelColor":"#262626","labelFont":"Liberation Sans","labelOffset":5,
     "gradientStrokeColor":"#262626","gradientStrokeWidth":0.5,
     "title":"log₁₀ relative error","titleOrient":"right","titleAnchor":"middle","titleFontSize":14,"titleFontWeight":"normal","titleColor":"#262626","titleFont":"Liberation Sans","titlePadding":23,
     "encode":{"title":{"update":{"angle":{"value":270}}},"labels":{"update":{"baseline":{"value":"middle"}}}}}}
 }},
{"mark":{"type":"point","opacity":0},
 "encoding":{
  "x":{"field":"x","type":"quantitative","axis":{"orient":"top","labels":false,"values":[0,0.1,0.2,0.3,0.4,0.5,0.6,0.7,0.8,0.9,1],"tickSize":-6,"minExtent":0,"maxExtent":0}},
  "y":{"field":"t","type":"quantitative","axis":{"orient":"right","labels":false,"values":[-0.25,-0.2,-0.15,-0.1,-0.05,0,0.05,0.1,0.15,0.2,0.25],"tickSize":-6,"minExtent":0,"maxExtent":0}}
 }}
],
"resolve":{"axis":{"x":"independent","y":"independent"}}
}
